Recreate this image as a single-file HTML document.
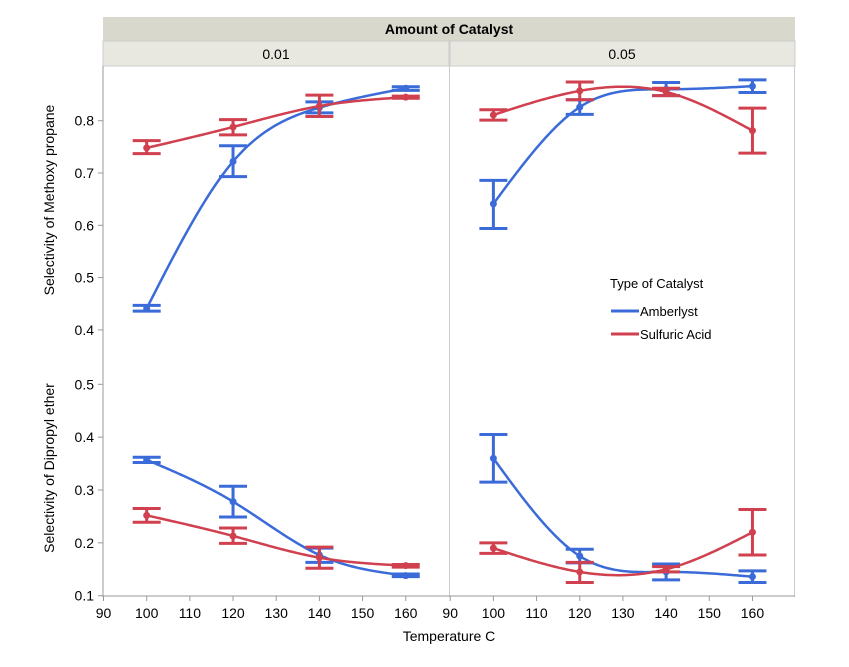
<!DOCTYPE html>
<html><head><meta charset="utf-8"><style>
body{margin:0;background:#fff;}
svg{display:block;font-family:"Liberation Sans",sans-serif;}
</style></head><body>
<svg id="chart" width="849" height="667">
<rect x="103" y="17" width="692" height="24" fill="#d8d8cc"/>
<text x="449" y="34" text-anchor="middle" font-size="14" font-weight="bold">Amount of Catalyst</text>
<rect x="103" y="41" width="346" height="25" fill="#e8e8e0" stroke="#ccc"/>
<rect x="450" y="41" width="345" height="25" fill="#e8e8e0" stroke="#ccc"/>
<text x="276" y="59" text-anchor="middle" font-size="14">0.01</text>
<text x="622" y="59" text-anchor="middle" font-size="14">0.05</text>
<line x1="449.5" y1="66" x2="449.5" y2="597" stroke="#ccc"/>
<line x1="794.5" y1="66" x2="794.5" y2="597" stroke="#ccc"/>
<line x1="103" y1="66" x2="103" y2="597" stroke="#999"/>
<line x1="103" y1="596" x2="795" y2="596" stroke="#999"/>
<text transform="translate(54,200) rotate(-90)" text-anchor="middle" font-size="14">Selectivity of Methoxy propane</text>
<text transform="translate(54,468) rotate(-90)" text-anchor="middle" font-size="14">Selectivity of Dipropyl ether</text>
<text x="449" y="641" text-anchor="middle" font-size="14">Temperature C</text>
<g>
<text x="610" y="288" font-size="13">Type of Catalyst</text>
<line x1="611" y1="311" x2="639" y2="311" stroke="#3a6bd8" stroke-width="3"/>
<text x="640" y="316" font-size="13">Amberlyst</text>
<line x1="611" y1="334" x2="639" y2="334" stroke="#d0404f" stroke-width="3"/>
<text x="640" y="339" font-size="13">Sulfuric Acid</text>
</g>
<g id="marks"></g>
</svg>
<script>
const temps=[100,120,140,160];
const xTicks=[90,100,110,120,130,140,150,160];
const yTicksTop=[0.4,0.5,0.6,0.7,0.8];
const yTicksBot=[0.1,0.2,0.3,0.4,0.5];
const mpAmb01=[0.441,0.722,0.825,0.862], mpAmb01Lo=[0.436,0.693,0.815,0.858], mpAmb01Hi=[0.447,0.752,0.836,0.865];
const mpSul01=[0.748,0.788,0.828,0.845], mpSul01Lo=[0.737,0.773,0.808,0.843], mpSul01Hi=[0.762,0.802,0.849,0.847];
const mpAmb05=[0.641,0.826,0.860,0.866], mpAmb05Lo=[0.594,0.812,0.848,0.854], mpAmb05Hi=[0.686,0.840,0.873,0.878];
const mpSul05=[0.811,0.857,0.855,0.781], mpSul05Lo=[0.801,0.840,0.848,0.738], mpSul05Hi=[0.821,0.874,0.862,0.824];
const dpAmb01=[0.357,0.278,0.177,0.138], dpAmb01Lo=[0.352,0.249,0.163,0.136], dpAmb01Hi=[0.362,0.307,0.190,0.141];
const dpSul01=[0.252,0.213,0.172,0.157], dpSul01Lo=[0.239,0.199,0.152,0.154], dpSul01Hi=[0.265,0.228,0.192,0.159];
const dpAmb05=[0.360,0.175,0.145,0.136], dpAmb05Lo=[0.315,0.162,0.130,0.125], dpAmb05Hi=[0.405,0.188,0.160,0.147];
const dpSul05=[0.190,0.145,0.150,0.220], dpSul05Lo=[0.180,0.125,0.145,0.177], dpSul05Hi=[0.200,0.163,0.155,0.263];

const NS='http://www.w3.org/2000/svg';
const g=document.getElementById('marks');
const BLUE='#3a6bd8', RED='#d0404f';
function xs(p,t){const x0=p===0?103.5:450.2;return x0+(t-90)*4.318;}
function yTop(v){return 120.7-(v-0.8)*523;}
function yBot(v){return 595.7-(v-0.1)*528.5;}
function mk(tag,attrs){const e=document.createElementNS(NS,tag);for(const k in attrs)e.setAttribute(k,attrs[k]);g.appendChild(e);return e;}

for(let p=0;p<2;p++){
  xTicks.forEach(t=>{
    const x=xs(p,t);
    const l=mk('line',{x1:x,y1:596,x2:x,y2:601,stroke:'#999'});
    
    
    const tx=mk('text',{x:x,y:618,'text-anchor':'middle','font-size':14});
    tx.textContent=t;
    
    
  });
}
[[yTicksTop,yTop],[yTicksBot,yBot]].forEach(([ticks,f])=>{
  ticks.forEach(v=>{
    const y=f(v);
    const l=mk('line',{x1:98,y1:y,x2:103,y2:y,stroke:'#999'});
    
    
    const tx=mk('text',{x:94,y:y+5,'text-anchor':'end','font-size':14});
    tx.textContent=v.toFixed(1);
    
    
  });
});

// natural cubic spline through data values
function spline(xv,yv){
  const n=xv.length,h=[],a=[],M=new Array(n).fill(0);
  for(let i=0;i<n-1;i++)h.push(xv[i+1]-xv[i]);
  const l=[1],mu=[0],z=[0];
  for(let i=1;i<n-1;i++){
    const al=3/h[i]*(yv[i+1]-yv[i])-3/h[i-1]*(yv[i]-yv[i-1]);
    l[i]=2*(xv[i+1]-xv[i-1])-h[i-1]*mu[i-1];
    mu[i]=h[i]/l[i];
    z[i]=(al-h[i-1]*z[i-1])/l[i];
  }
  const c=new Array(n).fill(0),b=[],d=[];
  for(let j=n-2;j>=0;j--){
    c[j]=(j>0?z[j]-mu[j]*c[j+1]:0);
    b[j]=(yv[j+1]-yv[j])/h[j]-h[j]*(c[j+1]+2*c[j])/3;
    d[j]=(c[j+1]-c[j])/(3*h[j]);
  }
  return x=>{let j=Math.min(n-2,Math.max(0,xv.findIndex((v,i)=>i<n-1&&x<=xv[i+1])));if(j<0)j=n-2;const dx=x-xv[j];return yv[j]+b[j]*dx+c[j]*dx*dx+d[j]*dx*dx*dx;};
}
function series(p,f,vals,lo,hi,color,name){
  const s=spline(temps,vals);
  let d='';
  for(let t=temps[0];t<=temps[temps.length-1]+1e-9;t+=0.5){
    d+=(d?'L':'M')+xs(p,t).toFixed(2)+','+f(s(t)).toFixed(2);
  }
  const path=mk('path',{d:d,fill:'none',stroke:color,'stroke-width':2.5});
  
  
  temps.forEach((t,i)=>{
    const x=xs(p,t),yl=f(lo[i]),yh=f(hi[i]);
    const eb=mk('path',{d:`M${x-14},${yh}H${x+14}M${x},${yh}V${yl}M${x-14},${yl}H${x+14}`,stroke:color,'stroke-width':3,fill:'none'});
    
    
    const c=mk('circle',{cx:x,cy:f(vals[i]),r:3.5,fill:color});
    
    
  });
}
series(0,yTop,mpAmb01,mpAmb01Lo,mpAmb01Hi,BLUE,'methoxy-amberlyst-001');
series(0,yTop,mpSul01,mpSul01Lo,mpSul01Hi,RED,'methoxy-sulfuric-001');
series(1,yTop,mpAmb05,mpAmb05Lo,mpAmb05Hi,BLUE,'methoxy-amberlyst-005');
series(1,yTop,mpSul05,mpSul05Lo,mpSul05Hi,RED,'methoxy-sulfuric-005');
series(0,yBot,dpAmb01,dpAmb01Lo,dpAmb01Hi,BLUE,'dipropyl-amberlyst-001');
series(0,yBot,dpSul01,dpSul01Lo,dpSul01Hi,RED,'dipropyl-sulfuric-001');
series(1,yBot,dpAmb05,dpAmb05Lo,dpAmb05Hi,BLUE,'dipropyl-amberlyst-005');
series(1,yBot,dpSul05,dpSul05Lo,dpSul05Hi,RED,'dipropyl-sulfuric-005');
</script>
</body></html>
